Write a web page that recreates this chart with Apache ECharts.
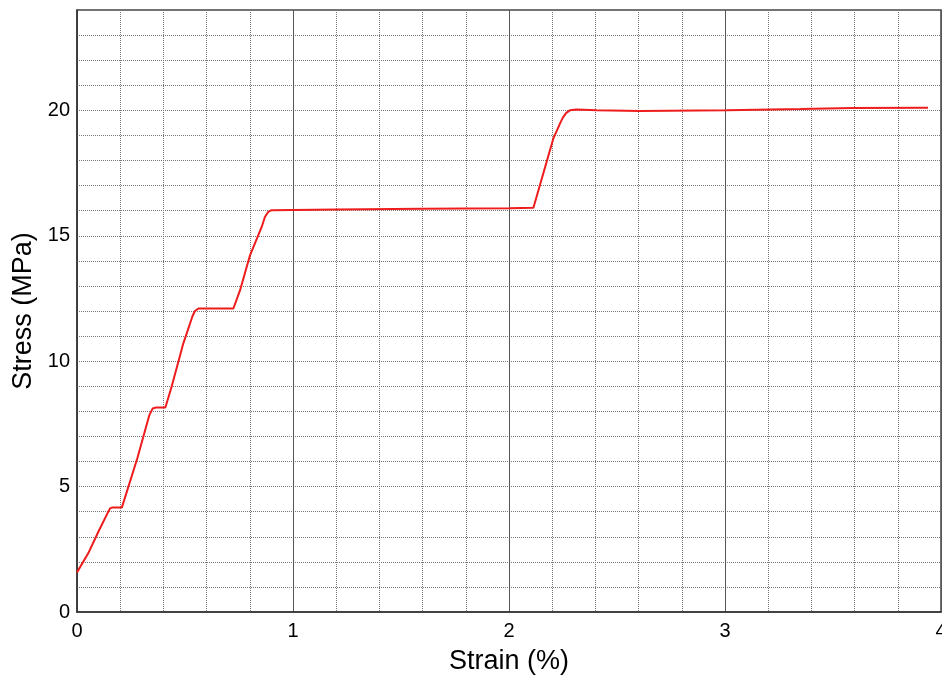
<!DOCTYPE html>
<html>
<head>
<meta charset="utf-8">
<script src="https://cdn.jsdelivr.net/npm/echarts@6/dist/echarts.min.js"></script>
<style>
html,body{margin:0;padding:0;background:#fff;}
#chart{width:942px;height:676px;}
</style>
</head>
<body>
<div id="chart"></div>
<script>
const strain = [0, 0.052, 0.10, 0.145, 0.153, 0.165, 0.208, 0.28, 0.335, 0.35, 0.366, 0.409, 0.438, 0.492, 0.535, 0.546, 0.562, 0.724, 0.755, 0.801, 0.855, 0.870, 0.885, 0.901, 1.2, 1.6, 2.0, 2.113, 2.205, 2.24, 2.251, 2.265, 2.282, 2.313, 2.406, 2.606, 3.008, 3.35, 3.59, 3.94];
const stress = [1.58, 2.34, 3.22, 4.0, 4.13, 4.17, 4.17, 6.15, 7.85, 8.11, 8.15, 8.15, 8.98, 10.7, 11.8, 12.0, 12.1, 12.1, 12.83, 14.22, 15.35, 15.75, 15.95, 16.02, 16.05, 16.08, 16.1, 16.12, 18.87, 19.55, 19.73, 19.9, 20.0, 20.03, 20.0, 19.97, 20.0, 20.05, 20.09, 20.1];
const xTicks = [0, 1, 2, 3, 4];
const yTicks = [0, 5, 10, 15, 20];
const xTitle = 'Strain (%)';
const yTitle = 'Stress (MPa)';

const data = strain.map((s, i) => [s, stress[i]]);
const font = '"Liberation Sans", Arial, sans-serif';
const chart = echarts.init(document.getElementById('chart'));
chart.setOption({
  animation: false,
  backgroundColor: '#fff',
  grid: { left: 77, top: 10, width: 864, height: 602, containLabel: false, outerBoundsMode: 'none',
    show: true, borderColor: '#444', borderWidth: 1.5 },
  xAxis: {
    type: 'value', min: 0, max: 4, interval: 1,
    name: xTitle, nameLocation: 'middle', nameGap: 36,
    nameTextStyle: { fontFamily: font, fontSize: 27, color: '#000' },
    axisLine: { show: true, onZero: false, lineStyle: { color: '#333', width: 1.5 } },
    axisTick: { show: false },
    axisLabel: { fontFamily: font, fontSize: 20, color: '#000', margin: 9,
      formatter: v => xTicks.includes(v) ? String(v) : '' },
    splitLine: { show: true, lineStyle: { color: '#555', width: 1 } },
    minorTick: { show: false, splitNumber: 5 },
    minorSplitLine: { show: true, lineStyle: { color: '#777', width: 1, type: [1, 1] } }
  },
  yAxis: {
    type: 'value', min: 0, max: 24, interval: 1,
    name: yTitle, nameLocation: 'middle', nameGap: 40,
    nameTextStyle: { fontFamily: font, fontSize: 27, color: '#000' },
    axisLine: { show: true, onZero: false, lineStyle: { color: '#333', width: 1.5 } },
    axisTick: { show: false },
    axisLabel: { fontFamily: font, fontSize: 20, color: '#000', margin: 7,
      formatter: v => yTicks.includes(v) ? String(v) : '' },
    splitLine: { show: true, lineStyle: { color: '#777', width: 1, type: [1, 1] } }
  },
  series: [{
    type: 'line', data: data, showSymbol: false, smooth: false,
    lineStyle: { color: '#ee1c1c', width: 2 },
    clip: true
  }]
});
</script>
</body>
</html>
